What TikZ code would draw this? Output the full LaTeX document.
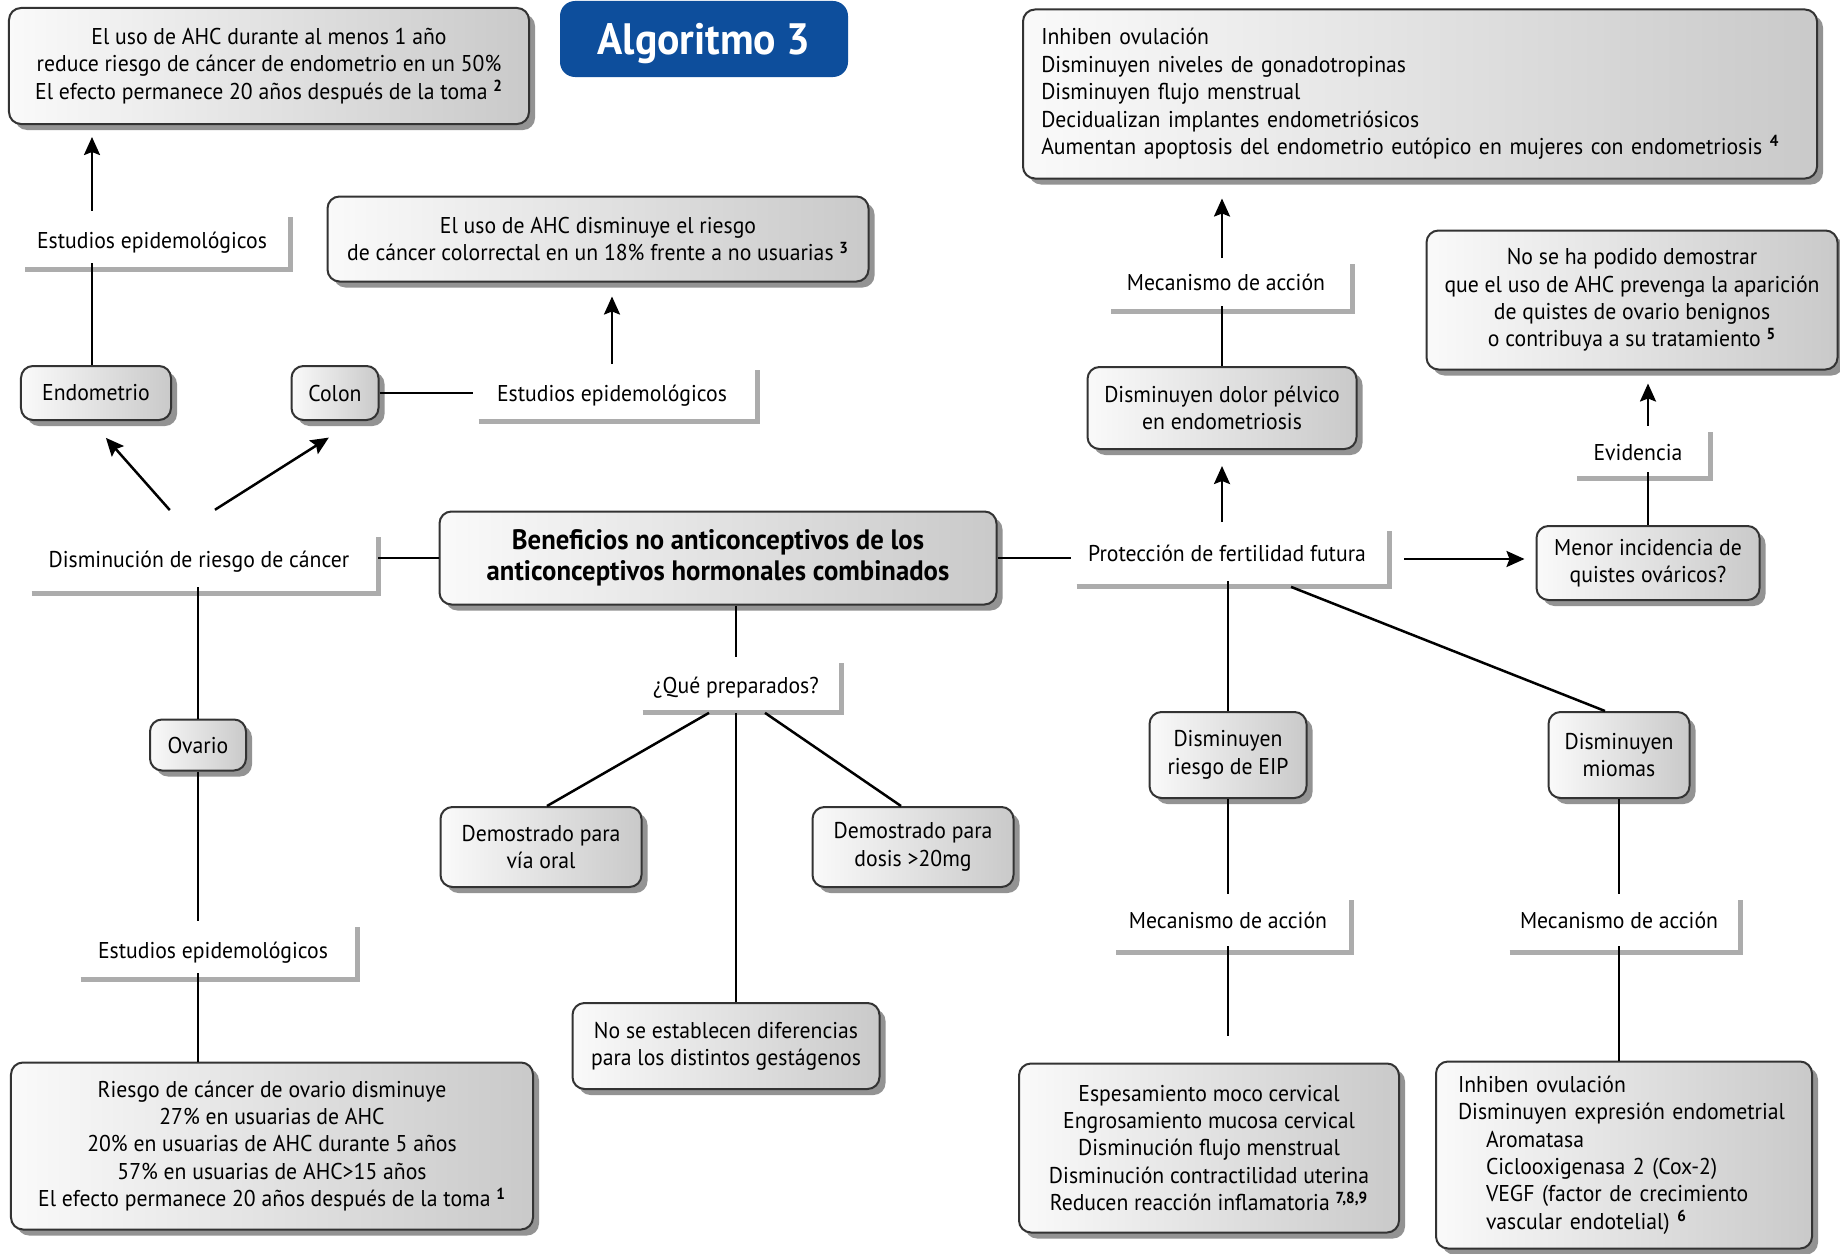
\documentclass[tikz,border=0pt]{standalone}
\usepackage{fontspec}
\setmainfont{PT Sans}[FakeStretch=0.95]
\usepackage{tikz}
\usetikzlibrary{arrows.meta, shadows}
\definecolor{algblue}{HTML}{0D4E9C}

\begin{document}
\begin{tikzpicture}[x=0.2mm, y=-0.2mm,
  every node/.style={font=\fontsize{13pt}{15.6pt}\selectfont},
  box/.style={rectangle, rounded corners=2.4mm, draw=black!80, line width=0.4mm,
    left color=gray!4, right color=gray!42, align=center, inner sep=0pt,
    drop shadow={shadow xshift=1.2mm, shadow yshift=-1.2mm, fill=black!60, opacity=0.7}},
  lbl/.style={rectangle, inner sep=0pt, align=center},
  low/.style={text height=5.4mm, text depth=1mm},
  lsh/.style={gray!65, line width=1mm},
  ln/.style={line width=0.5mm},
  arr/.style={-{Stealth[length=3.6mm, width=3.2mm, inset=0.6mm]}, line width=0.5mm},
]
  \useasboundingbox (0,0) rectangle (1840,1253);
  \fill[white] (0,0) rectangle (1840,1253);

  \node[rectangle, rounded corners=3mm, fill=algblue, text=white, minimum width=57.6mm, minimum height=15.2mm,
    text height=8.2mm, text depth=1.9mm, font=\fontsize{25pt}{30pt}\selectfont\bfseries] (title) at (704,39) {Algoritmo 3};

  \node[box, minimum width=104mm, minimum height=23.2mm] (resEndo) at (269,66)
    {El uso de AHC durante al menos 1 año\\reduce riesgo de cáncer de endometrio en un 50\%\\El efecto permanece 20 años después de la toma \textsuperscript{\bfseries 2}};
  \node[box, minimum width=108.2mm, minimum height=17mm] (resColon) at (598,239)
    {El uso de AHC disminuye el riesgo\\de cáncer colorrectal en un 18\% frente a no usuarias \textsuperscript{\bfseries 3}};
  \node[box, minimum width=158.8mm, minimum height=33.8mm, text width=151.5mm, align=left] (resDolor) at (1420,94)
    {Inhiben ovulación\\Disminuyen niveles de gonadotropinas\\Disminuyen flujo menstrual\\Decidualizan implantes endometriósicos\\\mbox{Aumentan apoptosis del endometrio eutópico en mujeres con endometriosis \textsuperscript{\bfseries 4}}};
  \node[box, minimum width=82.2mm, minimum height=27.8mm] (resQuistes) at (1632,300)
    {No se ha podido demostrar\\que el uso de AHC prevenga la aparición\\de quistes de ovario benignos\\o contribuya a su tratamiento \textsuperscript{\bfseries 5}};

  \node[lbl, low, minimum width=53mm, minimum height=10.4mm] (epiEndo) at (152,237) {Estudios epidemológicos};
  \node[box, minimum width=30mm, minimum height=10.8mm] (endo) at (96,393) {Endometrio};
  \node[box, minimum width=17.4mm, minimum height=10.8mm] (colon) at (335,393) {Colon};
  \node[lbl, low, minimum width=55.6mm, minimum height=10.2mm] (epiColon) at (612,390) {Estudios epidemológicos};
  \node[lbl, text height=4.4mm, text depth=1mm, minimum width=69.2mm, minimum height=11.2mm] (dism) at (199,559) {Disminución de riesgo de cáncer};

  \node[box, minimum width=111.4mm, minimum height=18.6mm, font=\fontsize{16pt}{17.4pt}\selectfont\bfseries] (central) at (718,558)
    {Beneficios no anticonceptivos de los\\anticonceptivos hormonales combinados};

  \node[lbl, minimum width=62.4mm, minimum height=11mm] (prot) at (1227,553) {Protección de fertilidad futura};
  \node[box, minimum width=44.6mm, minimum height=14.8mm] (menor) at (1648,563) {Menor incidencia de\\quistes ováricos?};
  \node[lbl, low, minimum width=26.6mm, minimum height=9.2mm] (evid) at (1638,449) {Evidencia};
  \node[lbl, minimum width=48.2mm, minimum height=9.4mm] (mecA) at (1226,282) {Mecanismo de acción};
  \node[box, minimum width=53.8mm, minimum height=16.4mm] (dolor) at (1222,408) {Disminuyen dolor pélvico\\en endometriosis};

  \node[lbl, low, minimum width=39.6mm, minimum height=9.8mm] (prep) at (736,682) {¿Qué preparados?};
  \node[box, minimum width=40.2mm, minimum height=16mm] (oral) at (541,847) {Demostrado para\\vía oral};
  \node[box, minimum width=40.2mm, minimum height=16mm] (dosis) at (913,847) {Demostrado para\\dosis >20mg};
  \node[box, minimum width=61.4mm, minimum height=17.2mm] (gesta) at (726,1046) {No se establecen diferencias\\para los distintos gestágenos};

  \node[box, minimum width=19.2mm, minimum height=10.2mm] (ovario) at (198,745) {Ovario};
  \node[lbl, low, minimum width=55.2mm, minimum height=10.4mm] (epiOva) at (213,947) {Estudios epidemológicos};
  \node[box, minimum width=104.4mm, minimum height=33.4mm] (resOvario) at (272,1146)
    {Riesgo de cáncer de ovario disminuye\\27\% en usuarias de AHC\\20\% en usuarias de AHC durante 5 años\\57\% en usuarias de AHC>15 años\\El efecto permanece 20 años después de la toma \textsuperscript{\bfseries 1}};

  \node[box, minimum width=31.4mm, minimum height=17.2mm] (eip) at (1228,755) {Disminuyen\\riesgo de EIP};
  \node[box, minimum width=28.2mm, minimum height=17.2mm] (miomas) at (1619,755) {Disminuyen\\miomas};
  \node[lbl, minimum width=47mm, minimum height=10.4mm] (mecB) at (1228,920) {Mecanismo de acción};
  \node[lbl, minimum width=46mm, minimum height=10.4mm] (mecC) at (1619,920) {Mecanismo de acción};
  \node[box, minimum width=76mm, minimum height=33.8mm] (resEip) at (1209,1148)
    {Espesamiento moco cervical\\Engrosamiento mucosa cervical\\Disminución flujo menstrual\\Disminución contractilidad uterina\\Reducen reacción inflamatoria \textsuperscript{\bfseries 7,8,9}};
  \node[box, minimum width=75.2mm, minimum height=37.4mm, text width=66.4mm, align=left] (resMiomas) at (1624,1155)
    {Inhiben ovulación\\\mbox{Disminuyen expresión endometrial}\\\hspace*{5.6mm}Aromatasa\\\hspace*{5.6mm}Ciclooxigenasa 2 (Cox-2)\\\hspace*{5.6mm}VEGF (factor de crecimiento\\\hspace*{5.6mm}vascular endotelial) \textsuperscript{\bfseries 6}};

  \foreach \n in {epiEndo, epiColon, dism, prot, evid, mecA, prep, epiOva, mecB, mecC}
    \draw[lsh] ([xshift=1.2mm, yshift=-1.2mm]\n.south west) -| ([xshift=1.2mm, yshift=-1.2mm]\n.north east);

  \draw[ln] ([xshift=-0.8mm]endo.north) -- ([xshift=-0.8mm]endo.north |- epiEndo.south);
  \draw[arr, shorten >=2.4mm] ([xshift=-0.8mm]endo.north |- epiEndo.north) -- ([xshift=-0.8mm]endo.north |- resEndo.south);
  \draw[ln] (colon.east) -- (colon.east -| epiColon.west);
  \draw[arr, shorten >=2.8mm] (epiColon.north) -- (epiColon.north |- resColon.south);
  \draw[arr, shorten <=5.5mm, shorten >=4.5mm] ([xshift=-2.2mm]dism.north) -- ([xshift=-1mm]endo.south);
  \draw[arr, shorten <=7.8mm, shorten >=6.2mm] ([xshift=-3.4mm]dism.north) -- ([xshift=4mm]colon.south);
  \draw[ln] ([xshift=1.2mm]dism.east |- central.west) -- (central.west);
  \draw[ln] (dism.south -| ovario.north) -- (ovario.north);
  \draw[ln] (ovario.south) -- (ovario.south |- epiOva.north);
  \draw[ln] (ovario.south |- epiOva.south) -- (ovario.south |- resOvario.north);

  \draw[ln] (central.south -| prep.north) -- (prep.north);
  \draw[ln] ([xshift=-5.4mm, yshift=-1.2mm]prep.south) -- ([xshift=1.2mm]oral.north);
  \draw[ln] ([yshift=-1.2mm]prep.south) -- (prep.south |- gesta.north);
  \draw[ln] ([xshift=5.8mm, yshift=-1.2mm]prep.south) -- ([xshift=-2.4mm]dosis.north);

  \draw[ln] (central.east) -- (central.east -| prot.west);
  \draw[arr, shorten <=0.6mm, shorten >=3.2mm] (dolor.south |- prot.north) -- (dolor.south);
  \draw[ln] (dolor.north) -- (dolor.north |- mecA.south);
  \draw[arr, shorten >=3.8mm] (dolor.north |- mecA.north) -- (dolor.north |- resDolor.south);
  \draw[arr, shorten <=4.2mm, shorten >=2.2mm] ([yshift=-1.2mm]prot.east) -- ([yshift=-1.2mm]prot.east -| menor.west);
  \draw[ln] (menor.north) -- (menor.north |- evid.south);
  \draw[arr, shorten >=2.6mm] (menor.north |- evid.north) -- (menor.north |- resQuistes.south);

  \draw[ln] (eip.north |- prot.south) -- (eip.north);
  \draw[ln] ([xshift=12.8mm, yshift=-1.2mm]prot.south) -- ([xshift=-2.8mm]miomas.north);
  \draw[ln] (eip.south) -- (eip.south |- mecB.north);
  \draw[ln, shorten >=5.4mm] (eip.south |- mecB.south) -- (eip.south |- resEip.north);
  \draw[ln] (miomas.south) -- (miomas.south |- mecC.north);
  \draw[ln] (miomas.south |- mecC.south) -- (miomas.south |- resMiomas.north);
\end{tikzpicture}
\end{document}
